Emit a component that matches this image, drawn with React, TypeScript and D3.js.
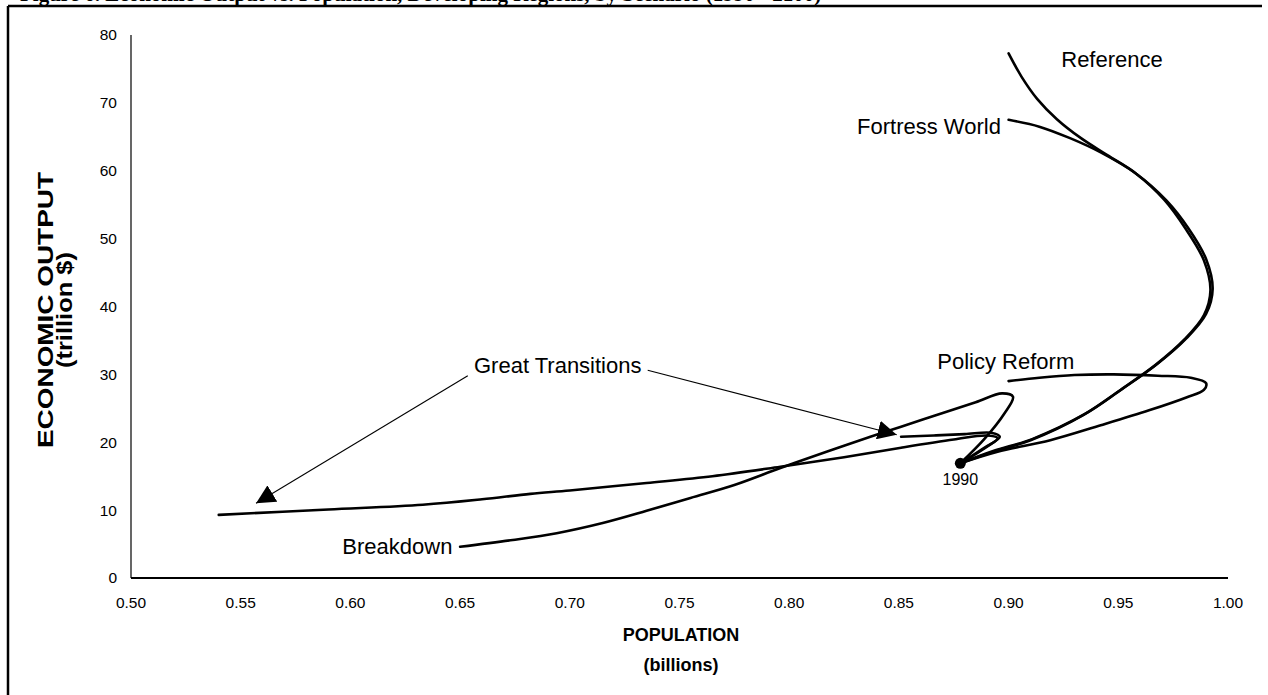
import * as d3 from 'd3';

// tick values
const popTicks = [0.5, 0.55, 0.6, 0.65, 0.7, 0.75, 0.8, 0.85, 0.9, 0.95, 1.0];
const gdpTicks = [0, 10, 20, 30, 40, 50, 60, 70, 80];

// scenario paths, [population (billions), economic output (trillion $)], starting at 1990
const reference = [
  [0.878, 16.9], [0.893, 18.6], [0.91, 20.3], [0.934, 24], [0.951, 27.7], [0.967, 31.4],
  [0.98, 35.1], [0.989, 38.7], [0.992, 42.4], [0.989, 46.8], [0.981, 51.3], [0.971, 55.7],
  [0.958, 59.6], [0.945, 62.3], [0.933, 64.8], [0.922, 67.6], [0.913, 70.6], [0.906, 73.8],
  [0.9, 77.3],
];
const fortressWorld = [
  [0.878, 16.9], [0.893, 18.7], [0.911, 20.5], [0.935, 24.2], [0.952, 27.9], [0.968, 31.6],
  [0.981, 35.3], [0.99, 38.9], [0.993, 42.6], [0.99, 47], [0.982, 51.5], [0.972, 55.6],
  [0.958, 59.6], [0.942, 62.7], [0.928, 64.8], [0.914, 66.5], [0.9, 67.5],
];
const policyReform = [
  [0.878, 16.9], [0.895, 18.6], [0.919, 20.3], [0.942, 22.5], [0.964, 24.7], [0.981, 26.6],
  [0.989, 27.7], [0.99, 28.7], [0.983, 29.5], [0.968, 29.8], [0.948, 30], [0.93, 29.9],
  [0.914, 29.5], [0.9, 29.0],
];
const breakdown = [
  [0.878, 16.9], [0.889, 20.5], [0.898, 24.2], [0.902, 26.7], [0.897, 27.2], [0.885, 25.9],
  [0.87, 24.3], [0.851, 22.3], [0.837, 20.8], [0.817, 18.6], [0.796, 16.2], [0.775, 13.7],
  [0.755, 11.8], [0.735, 9.9], [0.715, 8.1], [0.694, 6.6], [0.674, 5.6], [0.65, 4.6],
];
const greatTransitionsA = [
  [0.878, 16.9], [0.89, 19.3], [0.895, 20.6], [0.89, 21], [0.875, 20.4], [0.851, 19.2],
  [0.825, 17.8], [0.796, 16.4], [0.765, 15], [0.735, 14], [0.7, 12.9], [0.682, 12.4],
  [0.66, 11.6], [0.633, 10.8], [0.59, 10.1], [0.54, 9.3],
];
const greatTransitionsB = [
  [0.878, 16.9], [0.888, 19], [0.896, 20.8], [0.892, 21.4], [0.88, 21.2], [0.866, 21],
  [0.851, 20.8],
];

const series = [reference, fortressWorld, policyReform, breakdown, greatTransitionsA, greatTransitionsB];

// scenario labels: text, anchor point [pop, gdp], text-anchor
const labels: [string, number, number, string][] = [
  ['Reference', 0.924, 76.4, 'start'],
  ['Fortress World', 0.8965, 66.6, 'end'],
  ['Policy Reform', 0.8675, 32.0, 'start'],
  ['Great Transitions', 0.6945, 31.3, 'middle'],
  ['Breakdown', 0.6465, 4.7, 'end'],
];
// arrows from the Great Transitions label: [fromPop, fromGdp, toPop, toGdp]
const arrows = [
  [0.6535, 29.8, 0.557, 11.0],
  [0.7355, 30.6, 0.849, 21.1],
];

const W = 1268;
const H = 695;

export default function App() {
  const x = d3.scaleLinear().domain([0.5, 1.0]).range([131, 1228]);
  const y = d3.scaleLinear().domain([0, 80]).range([578, 35]);

  const line = d3.line<number[]>()
    .x(d => x(d[0]))
    .y(d => y(d[1]))
    .curve(d3.curveCatmullRom.alpha(0.5));

  const font = 'Arial, "Liberation Sans", sans-serif';

  return (
    <svg width={W} height={H} style={{ position: 'absolute', left: 0, top: 0, background: '#fff' }}>
      <defs>
        <marker id="tri" viewBox="0 0 10 10" refX="10" refY="5" markerWidth="19" markerHeight="19"
          markerUnits="userSpaceOnUse" orient="auto">
          <path d="M0,0 L10,5 L0,10 z" fill="#000" />
        </marker>
      </defs>

      {/* title, mostly cropped off the top */}
      <text x={20} y={1} fontFamily='"Times New Roman", "Liberation Serif", serif' fontWeight="bold"
        fontSize={21}>
        Figure 6. Economic Output vs. Population, Developing Regions, by Scenario (1990 - 2100)
      </text>

      {/* frame */}
      <line x1={8} x2={1262} y1={6} y2={6} stroke="#000" strokeWidth={2.5} />
      <line x1={8} x2={8} y1={6} y2={H} stroke="#000" strokeWidth={2.5} />

      {/* axes */}
      <line x1={x(0.5)} x2={x(0.5)} y1={y(80)} y2={y(0)} stroke="#000" strokeWidth={1.2} />
      <line x1={x(0.5)} x2={x(1.0)} y1={y(0)} y2={y(0)} stroke="#000" strokeWidth={1.8} />

      {gdpTicks.map(t => (
        <text key={'y' + t} x={x(0.5) - 14} y={y(t)} dy="0.35em" textAnchor="end"
          fontFamily={font} fontSize={15.5}>{t}</text>
      ))}
      {popTicks.map(t => (
        <text key={'x' + t} x={x(t)} y={y(0) + 30} textAnchor="middle"
          fontFamily={font} fontSize={15.5}>{d3.format('.2f')(t)}</text>
      ))}

      <text x={681} y={641} textAnchor="middle" fontFamily={font} fontWeight="bold" fontSize={18}>POPULATION</text>
      <text x={681} y={671} textAnchor="middle" fontFamily={font} fontWeight="bold" fontSize={18}>(billions)</text>
      <text transform={`translate(53,310) rotate(-90)`} textAnchor="middle" textLength={276}
        lengthAdjust="spacingAndGlyphs" fontFamily={font} fontWeight="bold" fontSize={22}>ECONOMIC OUTPUT</text>
      <text transform={`translate(72,310) rotate(-90)`} textAnchor="middle" textLength={116}
        lengthAdjust="spacingAndGlyphs" fontFamily={font} fontWeight="bold" fontSize={22}>(trillion $)</text>

      {/* scenario paths */}
      {series.map((s, i) => (
        <path key={i} d={line(s) || ''} fill="none" stroke="#000" strokeWidth={2.6}
          strokeLinejoin="round" strokeLinecap="round" />
      ))}

      {/* 1990 start point */}
      <circle cx={x(reference[0][0])} cy={y(reference[0][1])} r={5.5} fill="#000" />
      <text x={x(reference[0][0])} y={y(reference[0][1]) + 22} textAnchor="middle"
        fontFamily={font} fontSize={16}>1990</text>

      {arrows.map((a, i) => (
        <line key={'a' + i} x1={x(a[0])} y1={y(a[1])} x2={x(a[2])} y2={y(a[3])}
          stroke="#000" strokeWidth={1.1} markerEnd="url(#tri)" />
      ))}

      {labels.map(([t, px, py, anchor]) => (
        <text key={t} x={x(px)} y={y(py)} dy="0.35em" textAnchor={anchor}
          fontFamily={font} fontSize={22}>{t}</text>
      ))}
    </svg>
  );
}
